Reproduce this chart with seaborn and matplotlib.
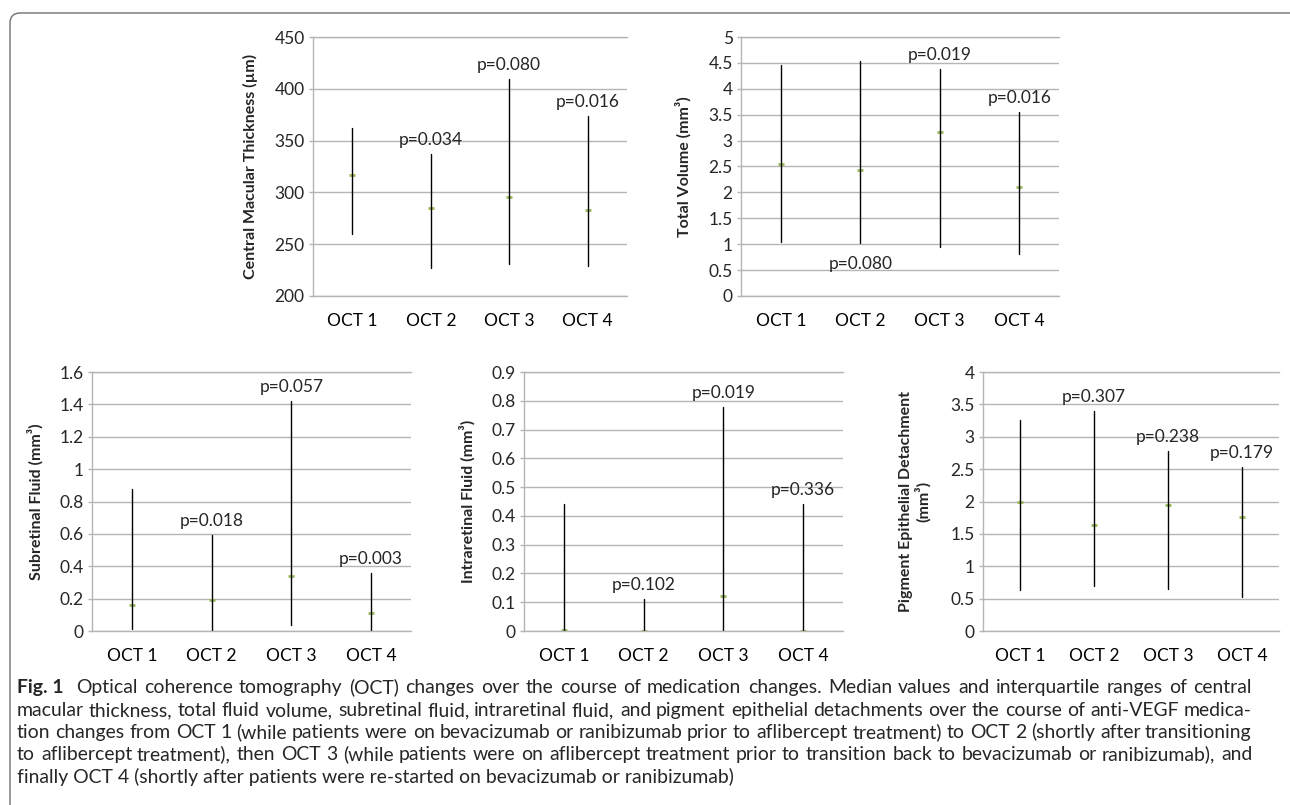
import matplotlib

matplotlib.use("Agg")
import matplotlib.pyplot as plt
import numpy as np
import pandas as pd
import seaborn as sns
from matplotlib.patches import FancyBboxPatch
from matplotlib.ticker import FuncFormatter, MultipleLocator

visits = ["OCT 1", "OCT 2", "OCT 3", "OCT 4"]

# central macular thickness (um): interquartile range and median
cmt_q1 = [260, 227, 231, 229]
cmt_median = [317, 285, 296, 283]
cmt_q3 = [362, 337, 409, 374]
cmt_p = ["", "p=0.034", "p=0.080", "p=0.016"]

# total volume (mm3)
tv_q1 = [1.05, 1.03, 0.95, 0.82]
tv_median = [2.55, 2.44, 3.17, 2.10]
tv_q3 = [4.46, 4.53, 4.38, 3.55]
tv_p = ["", "p=0.080", "p=0.019", "p=0.016"]

# subretinal fluid (mm3)
srf_q1 = [0.01, 0.00, 0.04, 0.00]
srf_median = [0.16, 0.19, 0.34, 0.11]
srf_q3 = [0.88, 0.59, 1.42, 0.36]
srf_p = ["", "p=0.018", "p=0.057", "p=0.003"]

# intraretinal fluid (mm3)
irf_q1 = [0.0, 0.0, 0.0, 0.0]
irf_median = [0.005, 0.0, 0.12, 0.0]
irf_q3 = [0.44, 0.11, 0.78, 0.44]
irf_p = ["", "p=0.102", "p=0.019", "p=0.336"]

# pigment epithelial detachment (mm3)
ped_q1 = [0.63, 0.70, 0.65, 0.53]
ped_median = [2.00, 1.64, 1.95, 1.76]
ped_q3 = [3.26, 3.39, 2.78, 2.54]
ped_p = ["", "p=0.307", "p=0.238", "p=0.179"]

caption_lines = [
    "Optical coherence tomography (OCT) changes over the course of medication changes. Median values and interquartile ranges of central",
    "macular thickness, total fluid volume, subretinal fluid, intraretinal fluid, and pigment epithelial detachments over the course of anti-VEGF medica-",
    "tion changes from OCT 1 (while patients were on bevacizumab or ranibizumab prior to aflibercept treatment) to OCT 2 (shortly after transitioning",
    "to aflibercept treatment), then OCT 3 (while patients were on aflibercept treatment prior to transition back to bevacizumab or ranibizumab), and",
    "finally OCT 4 (shortly after patients were re-started on bevacizumab or ranibizumab)",
]

sns.set_theme(style="white")
plt.rcParams["font.family"] = ["Lato", "DejaVu Sans"]

W, H = 1290, 805
GRID = "#b5b5b5"
GREEN = "#9bbb59"
TICK_SIZE = 12.5


def panel(fig, rect_px, q1, med, q3, pvals, ylabel, ymax, step, ymin=0,
          label_x=-0.18, sides=None):
    left, top, right, bottom = rect_px
    ax = fig.add_axes([left / W, 1 - bottom / H, (right - left) / W, (bottom - top) / H])
    df = pd.DataFrame({"visit": visits * 3, "value": q1 + med + q3})
    sns.pointplot(
        data=df, x="visit", y="value", order=visits,
        estimator="median", errorbar=lambda v: (v.min(), v.max()),
        linestyle="none", marker="_", markersize=4, markeredgewidth=2,
        color=GREEN, err_kws={"color": "black", "linewidth": 1.0},
        ax=ax,
    )
    ax.set_ylim(ymin, ymax)
    ax.yaxis.set_major_locator(MultipleLocator(step))
    ax.yaxis.set_major_formatter(FuncFormatter(lambda v, _: f"{round(v, 3):g}"))
    ax.yaxis.grid(True, color=GRID, linewidth=1.0)
    ax.set_axisbelow(True)
    for s in ["left", "bottom", "top"]:
        ax.spines[s].set_color(GRID)
        ax.spines[s].set_linewidth(1.0)
    ax.spines["right"].set_visible(False)
    ax.set_xlim(-0.5, len(visits) - 0.5)
    ax.set_xticks(np.arange(-0.5, len(visits)), minor=True)
    ax.tick_params(axis="x", which="major", length=0, labelsize=TICK_SIZE, pad=12, colors="black")
    ax.tick_params(axis="x", which="minor", length=4, width=1.0, color=GRID, direction="out")
    ax.tick_params(axis="y", length=3, width=1.0, color=GRID, direction="out",
                   left=True, labelsize=TICK_SIZE, pad=3)
    ax.set_xlabel("")
    ax.set_ylabel(ylabel, fontsize=11.5, fontweight="bold", linespacing=1.1)
    ax.yaxis.label.set_va("center")
    ax.yaxis.set_label_coords(label_x, 0.5)

    sides = sides or ["top"] * len(visits)
    for i, txt in enumerate(pvals):
        if not txt:
            continue
        if sides[i] == "top":
            ax.annotate(txt, (i, q3[i]), xytext=(0, 14), textcoords="offset pixels",
                        ha="center", va="center", fontsize=TICK_SIZE)
        else:
            ax.annotate(txt, (i, q1[i]), xytext=(0, -21), textcoords="offset pixels",
                        ha="center", va="center", fontsize=TICK_SIZE)
    return ax


fig = plt.figure(figsize=(W / 100, H / 100), dpi=100)

panel(fig, (313, 37, 627, 296), cmt_q1, cmt_median, cmt_q3, cmt_p,
      "Central Macular Thickness (\u00b5m)", 450, 50, ymin=200, label_x=-0.2)
panel(fig, (741, 37, 1059, 296), tv_q1, tv_median, tv_q3, tv_p,
      "Total Volume (mm\u00b3)", 5, 0.5, label_x=-0.182,
      sides=["top", "bottom", "top", "top"])
panel(fig, (92, 372, 411, 631), srf_q1, srf_median, srf_q3, srf_p,
      "Subretinal Fluid (mm\u00b3)", 1.6, 0.2, label_x=-0.179)
panel(fig, (524, 372, 843, 631), irf_q1, irf_median, irf_q3, irf_p,
      "Intraretinal Fluid (mm\u00b3)", 0.9, 0.1, label_x=-0.176)
panel(fig, (983, 372, 1279, 631), ped_q1, ped_median, ped_q3, ped_p,
      "Pigment Epithelial Detachment\n(mm\u00b3)", 4, 0.5, label_x=-0.23)

# rounded frame around the figure
frame = FancyBboxPatch((0.10, -1.0), 20, 8.92, boxstyle="round,pad=0,rounding_size=0.1",
                       transform=fig.dpi_scale_trans, fill=False,
                       edgecolor="#707070", linewidth=1.0)
fig.add_artist(frame)

# caption: size it so a full line fits, then justify word by word
renderer = fig.canvas.get_renderer()
x_left, x_right = 17, 1252
y0, dy = 693, 22.5
probe = fig.text(0, 0, caption_lines[1], fontsize=12)
cap_size = 12 * (x_right - x_left - 6) / probe.get_window_extent(renderer).width
probe.remove()

for k, line in enumerate(caption_lines):
    items = [(w, "normal") for w in line.split(" ")]
    if k == 0:
        items = [("Fig. 1", "bold")] + items
    # keep every baseline on a whole pixel so the words line up
    y_px = H - round(y0 + k * dy)
    if k == len(caption_lines) - 1:
        fig.text(x_left, y_px, line, fontsize=cap_size, va="baseline", ha="left",
                 transform=None)
        continue
    texts = [fig.text(0, y_px, w, fontsize=cap_size, fontweight=wt, va="baseline",
                      ha="left", transform=None) for w, wt in items]
    widths = [t.get_window_extent(renderer).width for t in texts]
    extra = 6 if k == 0 else 0
    gap = (x_right - x_left - sum(widths) - extra) / (len(texts) - 1)
    x = x_left
    for j, (t, w) in enumerate(zip(texts, widths)):
        t.set_x(round(x))
        x += w + gap + (extra if j == 0 else 0)

fig.savefig("out.png", dpi=100)
